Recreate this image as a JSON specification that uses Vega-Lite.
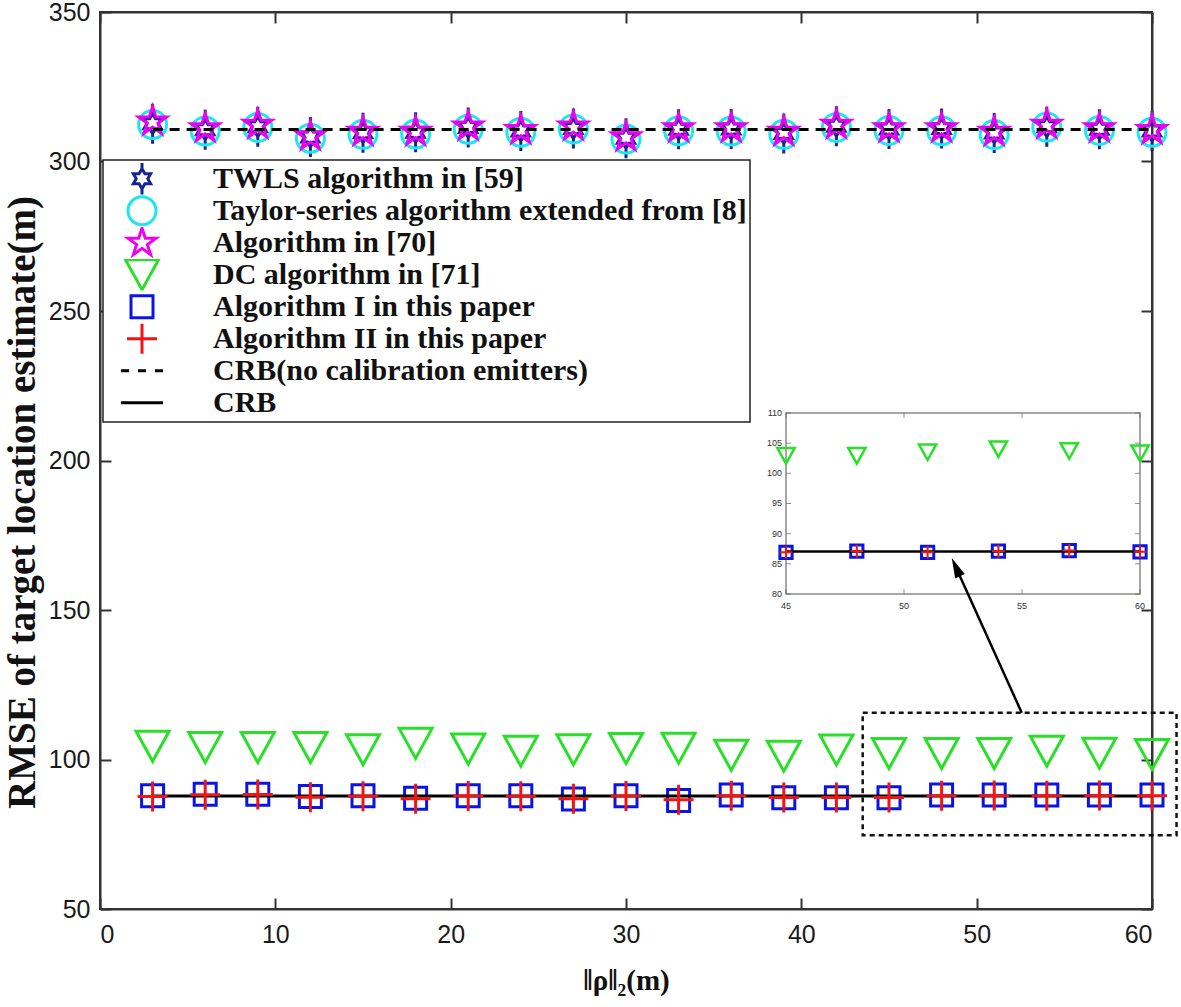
{
  "$schema": "https://vega.github.io/schema/vega-lite/v6.json",
  "width": 1052,
  "height": 897,
  "autosize": {"type": "none"},
  "padding": {"left": 100, "top": 12, "right": 29, "bottom": 98},
  "background": "white",
  "config": {
    "view": {"stroke": "#333333", "strokeWidth": 2},
    "axis": {"grid": false, "domainColor": "#333333", "domainWidth": 2, "tickColor": "#333333", "tickWidth": 2, "tickSize": -11, "labelFont": "Liberation Sans", "labelFontSize": 25, "labelColor": "#1a1a1a", "titleFont": "Liberation Serif", "titleFontWeight": "bold", "titleColor": "#111111"},
    "legend": {"orient": "none", "legendX": 3, "legendY": 148, "padding": 3, "strokeColor": "#222222", "strokeWidth": 1.5, "fillColor": "white", "labelFont": "Liberation Serif", "labelFontWeight": "bold", "labelFontSize": 30, "labelColor": "#111111", "labelLimit": 900, "labelOffset": 56, "symbolOffset": 21, "rowPadding": 0, "clipHeight": 31.5, "symbolSize": 4, "symbolStrokeWidth": 3}
  },
  "datasets": {
    "pts": [
      {"x": 3, "y": 312.6, "s": "TWLS algorithm in [59]"},
      {"x": 6, "y": 310.6, "s": "TWLS algorithm in [59]"},
      {"x": 9, "y": 311.6, "s": "TWLS algorithm in [59]"},
      {"x": 12, "y": 308.2, "s": "TWLS algorithm in [59]"},
      {"x": 15, "y": 309.6, "s": "TWLS algorithm in [59]"},
      {"x": 18, "y": 309.8, "s": "TWLS algorithm in [59]"},
      {"x": 21, "y": 311.4, "s": "TWLS algorithm in [59]"},
      {"x": 24, "y": 310.2, "s": "TWLS algorithm in [59]"},
      {"x": 27, "y": 311.0, "s": "TWLS algorithm in [59]"},
      {"x": 30, "y": 307.8, "s": "TWLS algorithm in [59]"},
      {"x": 33, "y": 310.8, "s": "TWLS algorithm in [59]"},
      {"x": 36, "y": 310.9, "s": "TWLS algorithm in [59]"},
      {"x": 39, "y": 309.4, "s": "TWLS algorithm in [59]"},
      {"x": 42, "y": 311.8, "s": "TWLS algorithm in [59]"},
      {"x": 45, "y": 310.9, "s": "TWLS algorithm in [59]"},
      {"x": 48, "y": 311.0, "s": "TWLS algorithm in [59]"},
      {"x": 51, "y": 309.5, "s": "TWLS algorithm in [59]"},
      {"x": 54, "y": 311.6, "s": "TWLS algorithm in [59]"},
      {"x": 57, "y": 310.8, "s": "TWLS algorithm in [59]"},
      {"x": 60, "y": 310.2, "s": "TWLS algorithm in [59]"},
      {"x": 3, "y": 312.4, "s": "Taylor-series algorithm extended from [8]"},
      {"x": 6, "y": 310.2, "s": "Taylor-series algorithm extended from [8]"},
      {"x": 9, "y": 311.4, "s": "Taylor-series algorithm extended from [8]"},
      {"x": 12, "y": 307.8, "s": "Taylor-series algorithm extended from [8]"},
      {"x": 15, "y": 309.1, "s": "Taylor-series algorithm extended from [8]"},
      {"x": 18, "y": 309.2, "s": "Taylor-series algorithm extended from [8]"},
      {"x": 21, "y": 310.8, "s": "Taylor-series algorithm extended from [8]"},
      {"x": 24, "y": 309.8, "s": "Taylor-series algorithm extended from [8]"},
      {"x": 27, "y": 310.9, "s": "Taylor-series algorithm extended from [8]"},
      {"x": 30, "y": 307.5, "s": "Taylor-series algorithm extended from [8]"},
      {"x": 33, "y": 310.3, "s": "Taylor-series algorithm extended from [8]"},
      {"x": 36, "y": 310.2, "s": "Taylor-series algorithm extended from [8]"},
      {"x": 39, "y": 309.1, "s": "Taylor-series algorithm extended from [8]"},
      {"x": 42, "y": 311.4, "s": "Taylor-series algorithm extended from [8]"},
      {"x": 45, "y": 310.4, "s": "Taylor-series algorithm extended from [8]"},
      {"x": 48, "y": 310.3, "s": "Taylor-series algorithm extended from [8]"},
      {"x": 51, "y": 309.0, "s": "Taylor-series algorithm extended from [8]"},
      {"x": 54, "y": 311.5, "s": "Taylor-series algorithm extended from [8]"},
      {"x": 57, "y": 310.4, "s": "Taylor-series algorithm extended from [8]"},
      {"x": 60, "y": 309.8, "s": "Taylor-series algorithm extended from [8]"},
      {"x": 3, "y": 313.4, "s": "Algorithm in [70]"},
      {"x": 6, "y": 311.1, "s": "Algorithm in [70]"},
      {"x": 9, "y": 312.3, "s": "Algorithm in [70]"},
      {"x": 12, "y": 308.4, "s": "Algorithm in [70]"},
      {"x": 15, "y": 309.9, "s": "Algorithm in [70]"},
      {"x": 18, "y": 309.9, "s": "Algorithm in [70]"},
      {"x": 21, "y": 311.7, "s": "Algorithm in [70]"},
      {"x": 24, "y": 310.5, "s": "Algorithm in [70]"},
      {"x": 27, "y": 311.7, "s": "Algorithm in [70]"},
      {"x": 30, "y": 308.1, "s": "Algorithm in [70]"},
      {"x": 33, "y": 311.1, "s": "Algorithm in [70]"},
      {"x": 36, "y": 311.1, "s": "Algorithm in [70]"},
      {"x": 39, "y": 309.9, "s": "Algorithm in [70]"},
      {"x": 42, "y": 312.3, "s": "Algorithm in [70]"},
      {"x": 45, "y": 311.1, "s": "Algorithm in [70]"},
      {"x": 48, "y": 311.1, "s": "Algorithm in [70]"},
      {"x": 51, "y": 309.9, "s": "Algorithm in [70]"},
      {"x": 54, "y": 312.3, "s": "Algorithm in [70]"},
      {"x": 57, "y": 311.1, "s": "Algorithm in [70]"},
      {"x": 60, "y": 310.5, "s": "Algorithm in [70]"},
      {"x": 3, "y": 104.4, "s": "DC algorithm in [71]"},
      {"x": 6, "y": 104.0, "s": "DC algorithm in [71]"},
      {"x": 9, "y": 104.0, "s": "DC algorithm in [71]"},
      {"x": 12, "y": 104.0, "s": "DC algorithm in [71]"},
      {"x": 15, "y": 103.3, "s": "DC algorithm in [71]"},
      {"x": 18, "y": 105.4, "s": "DC algorithm in [71]"},
      {"x": 21, "y": 103.5, "s": "DC algorithm in [71]"},
      {"x": 24, "y": 102.8, "s": "DC algorithm in [71]"},
      {"x": 27, "y": 103.3, "s": "DC algorithm in [71]"},
      {"x": 30, "y": 103.7, "s": "DC algorithm in [71]"},
      {"x": 33, "y": 103.8, "s": "DC algorithm in [71]"},
      {"x": 36, "y": 101.4, "s": "DC algorithm in [71]"},
      {"x": 39, "y": 101.1, "s": "DC algorithm in [71]"},
      {"x": 42, "y": 103.2, "s": "DC algorithm in [71]"},
      {"x": 45, "y": 102.0, "s": "DC algorithm in [71]"},
      {"x": 48, "y": 102.0, "s": "DC algorithm in [71]"},
      {"x": 51, "y": 102.0, "s": "DC algorithm in [71]"},
      {"x": 54, "y": 102.8, "s": "DC algorithm in [71]"},
      {"x": 57, "y": 102.1, "s": "DC algorithm in [71]"},
      {"x": 60, "y": 101.7, "s": "DC algorithm in [71]"},
      {"x": 3, "y": 87.9, "s": "Algorithm I in this paper"},
      {"x": 6, "y": 88.4, "s": "Algorithm I in this paper"},
      {"x": 9, "y": 88.4, "s": "Algorithm I in this paper"},
      {"x": 12, "y": 87.6, "s": "Algorithm I in this paper"},
      {"x": 15, "y": 87.9, "s": "Algorithm I in this paper"},
      {"x": 18, "y": 87.0, "s": "Algorithm I in this paper"},
      {"x": 21, "y": 87.9, "s": "Algorithm I in this paper"},
      {"x": 24, "y": 87.9, "s": "Algorithm I in this paper"},
      {"x": 27, "y": 86.8, "s": "Algorithm I in this paper"},
      {"x": 30, "y": 87.9, "s": "Algorithm I in this paper"},
      {"x": 33, "y": 86.3, "s": "Algorithm I in this paper"},
      {"x": 36, "y": 88.1, "s": "Algorithm I in this paper"},
      {"x": 39, "y": 87.2, "s": "Algorithm I in this paper"},
      {"x": 42, "y": 87.2, "s": "Algorithm I in this paper"},
      {"x": 45, "y": 87.2, "s": "Algorithm I in this paper"},
      {"x": 48, "y": 88.1, "s": "Algorithm I in this paper"},
      {"x": 51, "y": 88.1, "s": "Algorithm I in this paper"},
      {"x": 54, "y": 88.1, "s": "Algorithm I in this paper"},
      {"x": 57, "y": 88.1, "s": "Algorithm I in this paper"},
      {"x": 60, "y": 88.1, "s": "Algorithm I in this paper"},
      {"x": 3, "y": 87.6, "s": "Algorithm II in this paper"},
      {"x": 6, "y": 88.2, "s": "Algorithm II in this paper"},
      {"x": 9, "y": 88.3, "s": "Algorithm II in this paper"},
      {"x": 12, "y": 87.4, "s": "Algorithm II in this paper"},
      {"x": 15, "y": 87.7, "s": "Algorithm II in this paper"},
      {"x": 18, "y": 86.9, "s": "Algorithm II in this paper"},
      {"x": 21, "y": 87.8, "s": "Algorithm II in this paper"},
      {"x": 24, "y": 87.7, "s": "Algorithm II in this paper"},
      {"x": 27, "y": 86.9, "s": "Algorithm II in this paper"},
      {"x": 30, "y": 87.8, "s": "Algorithm II in this paper"},
      {"x": 33, "y": 86.5, "s": "Algorithm II in this paper"},
      {"x": 36, "y": 87.9, "s": "Algorithm II in this paper"},
      {"x": 39, "y": 87.3, "s": "Algorithm II in this paper"},
      {"x": 42, "y": 87.3, "s": "Algorithm II in this paper"},
      {"x": 45, "y": 87.3, "s": "Algorithm II in this paper"},
      {"x": 48, "y": 87.9, "s": "Algorithm II in this paper"},
      {"x": 51, "y": 88.0, "s": "Algorithm II in this paper"},
      {"x": 54, "y": 87.9, "s": "Algorithm II in this paper"},
      {"x": 57, "y": 88.0, "s": "Algorithm II in this paper"},
      {"x": 60, "y": 87.9, "s": "Algorithm II in this paper"}
    ],
    "crb": [
      {"x": 3, "y": 310.7, "k": "nc"}, {"x": 6, "y": 310.7, "k": "nc"}, {"x": 9, "y": 310.7, "k": "nc"}, {"x": 12, "y": 310.7, "k": "nc"}, {"x": 15, "y": 310.7, "k": "nc"},
      {"x": 18, "y": 310.7, "k": "nc"}, {"x": 21, "y": 310.7, "k": "nc"}, {"x": 24, "y": 310.7, "k": "nc"}, {"x": 27, "y": 310.7, "k": "nc"}, {"x": 30, "y": 310.7, "k": "nc"},
      {"x": 33, "y": 310.7, "k": "nc"}, {"x": 36, "y": 310.7, "k": "nc"}, {"x": 39, "y": 310.7, "k": "nc"}, {"x": 42, "y": 310.7, "k": "nc"}, {"x": 45, "y": 310.7, "k": "nc"},
      {"x": 48, "y": 310.7, "k": "nc"}, {"x": 51, "y": 310.7, "k": "nc"}, {"x": 54, "y": 310.7, "k": "nc"}, {"x": 57, "y": 310.7, "k": "nc"}, {"x": 60, "y": 310.7, "k": "nc"},
      {"x": 3, "y": 87.8, "k": "crb"}, {"x": 6, "y": 87.8, "k": "crb"}, {"x": 9, "y": 87.8, "k": "crb"}, {"x": 12, "y": 87.8, "k": "crb"}, {"x": 15, "y": 87.8, "k": "crb"},
      {"x": 18, "y": 87.8, "k": "crb"}, {"x": 21, "y": 87.8, "k": "crb"}, {"x": 24, "y": 87.8, "k": "crb"}, {"x": 27, "y": 87.8, "k": "crb"}, {"x": 30, "y": 87.8, "k": "crb"},
      {"x": 33, "y": 87.8, "k": "crb"}, {"x": 36, "y": 87.8, "k": "crb"}, {"x": 39, "y": 87.8, "k": "crb"}, {"x": 42, "y": 87.8, "k": "crb"}, {"x": 45, "y": 87.8, "k": "crb"},
      {"x": 48, "y": 87.8, "k": "crb"}, {"x": 51, "y": 87.8, "k": "crb"}, {"x": 54, "y": 87.8, "k": "crb"}, {"x": 57, "y": 87.8, "k": "crb"}, {"x": 60, "y": 87.8, "k": "crb"}
    ],
    "zoombox": [{"x": 43.5, "x2": 61.4, "y": 115.6, "y2": 74.7}],
    "arrow": [{"x": 54.987, "y": 60.32}, {"x": 52.241, "y": 84.07}],
    "arrowhead": [{"x": 52.241, "y": 84.07}],
    "ins": [
      {"x": 45, "y": 102.9, "s": "DC"}, {"x": 48, "y": 102.9, "s": "DC"}, {"x": 51, "y": 103.5, "s": "DC"}, {"x": 54, "y": 104.0, "s": "DC"}, {"x": 57, "y": 103.7, "s": "DC"}, {"x": 60, "y": 103.3, "s": "DC"},
      {"x": 45, "y": 86.9, "s": "A1"}, {"x": 48, "y": 87.1, "s": "A1"}, {"x": 51, "y": 86.9, "s": "A1"}, {"x": 54, "y": 87.1, "s": "A1"}, {"x": 57, "y": 87.2, "s": "A1"}, {"x": 60, "y": 87.0, "s": "A1"},
      {"x": 45, "y": 86.9, "s": "A2"}, {"x": 48, "y": 87.1, "s": "A2"}, {"x": 51, "y": 86.9, "s": "A2"}, {"x": 54, "y": 87.1, "s": "A2"}, {"x": 57, "y": 87.2, "s": "A2"}, {"x": 60, "y": 87.0, "s": "A2"}
    ],
    "icrb": [{"x": 45, "y": 87.05}, {"x": 48, "y": 87.05}, {"x": 51, "y": 87.05}, {"x": 54, "y": 87.05}, {"x": 57, "y": 87.05}, {"x": 60, "y": 87.05}],
    "ibox": [{"x": 45, "x2": 60, "y": 80, "y2": 110}],
    "ixt": [{"v": 45}, {"v": 50}, {"v": 55}, {"v": 60}],
    "iyt": [{"v": 80}, {"v": 85}, {"v": 90}, {"v": 95}, {"v": 100}, {"v": 105}, {"v": 110}]
  },
  "layer": [
    {
      "layer": [
        {
          "data": {"name": "pts"},
          "transform": [{"filter": "datum.s !== 'Algorithm II in this paper'"}],
          "mark": {"type": "point", "filled": false, "strokeWidth": 3, "opacity": 1, "size": 4},
          "encoding": {
            "x": {"field": "x", "type": "quantitative", "scale": {"domain": [0, 60], "nice": false, "zero": false},
                  "axis": {"values": [0, 10, 20, 30, 40, 50, 60], "labelPadding": 24, "title": "‖ρ‖₂(m)", "titleFontSize": 29, "titleY": 80, "titleBaseline": "alphabetic"}},
            "y": {"field": "y", "type": "quantitative", "scale": {"domain": [50, 350], "nice": false, "zero": false},
                  "axis": {"values": [50, 100, 150, 200, 250, 300, 350], "labelPadding": 21, "title": "RMSE of target location estimate(m)", "titleFontSize": 39, "titleX": -78, "titleY": 490, "titleBaseline": "middle"}},
            "color": {"field": "s", "type": "nominal", "title": null,
              "scale": {"domain": ["TWLS algorithm in [59]", "Taylor-series algorithm extended from [8]", "Algorithm in [70]", "DC algorithm in [71]", "Algorithm I in this paper", "Algorithm II in this paper", "CRB(no calibration emitters)", "CRB"],
                        "range": ["#15268f", "#1ee6f0", "#f000f0", "#28e028", "#0b14e6", "#f01414", "#000000", "#000000"]}},
            "shape": {"field": "s", "type": "nominal", "title": null,
              "scale": {"domain": ["TWLS algorithm in [59]", "Taylor-series algorithm extended from [8]", "Algorithm in [70]", "DC algorithm in [71]", "Algorithm I in this paper", "Algorithm II in this paper", "CRB(no calibration emitters)", "CRB"],
                        "range": ["M0,-10L2.887,-5L8.66,-5L5.77,0L8.66,5L2.887,5L0,10L-2.887,5L-8.66,5L-5.77,0L-8.66,-5L-2.887,-5ZM0,-10L0,-20M0,10L0,20", "M14,0A14,14,0,1,1,-14,0A14,14,0,1,1,14,0Z", "M0,-14.7L3.3,-4.54L13.98,-4.54L5.34,1.73L8.64,11.89L0,5.62L-8.64,11.89L-5.34,1.73L-13.98,-4.54L-3.3,-4.54Z", "M-16.5,-15L16.5,-15L0,15Z", "M-11,-11L11,-11L11,11L-11,11Z", "M-15,0L15,0M0,-15L0,15", "M-21,0L-13,0M-4,0L4,0M13,0L21,0", "M-21,0L21,0"]}}
          }
        },
        {
          "data": {"name": "crb"},
          "transform": [{"filter": "datum.k === 'nc'"}],
          "mark": {"type": "line", "color": "#000000", "strokeWidth": 3, "strokeDash": [10, 7]},
          "encoding": {"x": {"field": "x", "type": "quantitative", "axis": null}, "y": {"field": "y", "type": "quantitative", "axis": null}}
        },
        {
          "data": {"name": "crb"},
          "transform": [{"filter": "datum.k === 'crb'"}],
          "mark": {"type": "line", "color": "#000000", "strokeWidth": 3},
          "encoding": {"x": {"field": "x", "type": "quantitative", "axis": null}, "y": {"field": "y", "type": "quantitative", "axis": null}}
        },
        {
          "data": {"name": "pts"},
          "transform": [{"filter": "datum.s === 'Algorithm II in this paper'"}],
          "mark": {"type": "point", "filled": false, "strokeWidth": 3, "opacity": 1, "size": 4, "color": "#f01414", "shape": "M-15,0L15,0M0,-15L0,15"},
          "encoding": {
            "x": {"field": "x", "type": "quantitative", "axis": null},
            "y": {"field": "y", "type": "quantitative", "axis": null}
          }
        },
        {
          "data": {"name": "zoombox"},
          "mark": {"type": "rect", "fill": "white", "fillOpacity": 0, "stroke": "#111111", "strokeWidth": 2.5, "strokeDash": [5, 4]},
          "encoding": {"x": {"field": "x", "type": "quantitative", "axis": null}, "x2": {"field": "x2"}, "y": {"field": "y", "type": "quantitative", "axis": null}, "y2": {"field": "y2"}}
        },
        {
          "data": {"name": "zoombox"},
          "mark": {"type": "point", "opacity": 0},
          "encoding": {
            "x": {"field": "x", "type": "quantitative", "axis": {"orient": "top", "values": [0, 10, 20, 30, 40, 50, 60], "labels": false, "title": null}},
            "y": {"field": "y", "type": "quantitative", "axis": {"orient": "right", "values": [50, 100, 150, 200, 250, 300, 350], "labels": false, "title": null}}
          }
        }
      ],
      "resolve": {"axis": {"x": "independent", "y": "independent"}}
    },
    {
      "layer": [
        {
          "data": {"name": "ibox"},
          "mark": {"type": "rect", "fill": "white", "stroke": "#8a8a8a", "strokeWidth": 1.5},
          "encoding": {
            "x": {"field": "x", "type": "quantitative", "scale": {"domain": [15.932, 60.508], "nice": false, "zero": false}, "axis": null},
            "x2": {"field": "x2"},
            "y": {"field": "y", "type": "quantitative", "scale": {"domain": [27.79, 176.46], "nice": false, "zero": false}, "axis": null},
            "y2": {"field": "y2"}
          }
        },
        {
          "data": {"name": "ixt"},
          "mark": {"type": "tick", "orient": "vertical", "size": 5, "thickness": 1, "color": "#666666", "yOffset": -2.5},
          "encoding": {"x": {"field": "v", "type": "quantitative", "axis": null}, "y": {"datum": 80, "type": "quantitative", "axis": null}}
        },
        {
          "data": {"name": "ixt"},
          "mark": {"type": "tick", "orient": "vertical", "size": 5, "thickness": 1, "color": "#666666", "yOffset": 2.5},
          "encoding": {"x": {"field": "v", "type": "quantitative", "axis": null}, "y": {"datum": 110, "type": "quantitative", "axis": null}}
        },
        {
          "data": {"name": "iyt"},
          "mark": {"type": "tick", "orient": "horizontal", "size": 5, "thickness": 1, "color": "#666666", "xOffset": 2.5},
          "encoding": {"y": {"field": "v", "type": "quantitative", "axis": null}, "x": {"datum": 45, "type": "quantitative", "axis": null}}
        },
        {
          "data": {"name": "iyt"},
          "mark": {"type": "tick", "orient": "horizontal", "size": 5, "thickness": 1, "color": "#666666", "xOffset": -2.5},
          "encoding": {"y": {"field": "v", "type": "quantitative", "axis": null}, "x": {"datum": 60, "type": "quantitative", "axis": null}}
        },
        {
          "data": {"name": "ixt"},
          "mark": {"type": "text", "font": "Liberation Sans", "fontSize": 9, "color": "#333333", "dy": 12, "align": "center", "baseline": "middle"},
          "encoding": {"x": {"field": "v", "type": "quantitative", "axis": null}, "y": {"datum": 80, "type": "quantitative", "axis": null}, "text": {"field": "v", "type": "quantitative"}}
        },
        {
          "data": {"name": "iyt"},
          "mark": {"type": "text", "font": "Liberation Sans", "fontSize": 9, "color": "#333333", "dx": -4, "align": "right", "baseline": "middle"},
          "encoding": {"y": {"field": "v", "type": "quantitative", "axis": null}, "x": {"datum": 45, "type": "quantitative", "axis": null}, "text": {"field": "v", "type": "quantitative"}}
        },
        {
          "data": {"name": "ins"},
          "transform": [{"filter": "datum.s === 'DC'"}],
          "mark": {"type": "point", "filled": false, "strokeWidth": 2.5, "color": "#28e028", "opacity": 1, "shape": "M-1,-0.9L1,-0.9L0,0.9Z", "size": 300},
          "encoding": {"x": {"field": "x", "type": "quantitative", "axis": null}, "y": {"field": "y", "type": "quantitative", "axis": null}}
        },
        {
          "data": {"name": "ins"},
          "transform": [{"filter": "datum.s === 'A1'"}],
          "mark": {"type": "point", "filled": false, "strokeWidth": 3, "color": "#0b14e6", "opacity": 1, "shape": "square", "size": 150},
          "encoding": {"x": {"field": "x", "type": "quantitative", "axis": null}, "y": {"field": "y", "type": "quantitative", "axis": null}}
        },
        {
          "data": {"name": "icrb"},
          "mark": {"type": "line", "color": "#000000", "strokeWidth": 2.5},
          "encoding": {"x": {"field": "x", "type": "quantitative", "axis": null}, "y": {"field": "y", "type": "quantitative", "axis": null}}
        },
        {
          "data": {"name": "ins"},
          "transform": [{"filter": "datum.s === 'A2'"}],
          "mark": {"type": "point", "filled": false, "strokeWidth": 2, "color": "#f01414", "opacity": 1, "shape": "M-1,0L1,0M0,-1L0,1", "size": 169},
          "encoding": {"x": {"field": "x", "type": "quantitative", "axis": null}, "y": {"field": "y", "type": "quantitative", "axis": null}}
        },
        {
          "data": {"name": "arrow"},
          "mark": {"type": "line", "color": "#000000", "strokeWidth": 2.5},
          "encoding": {"x": {"field": "x", "type": "quantitative", "axis": null}, "y": {"field": "y", "type": "quantitative", "axis": null}}
        },
        {
          "data": {"name": "arrowhead"},
          "mark": {"type": "point", "filled": true, "color": "#000000", "opacity": 1, "shape": "M0,-1L0.42,0.6L-0.42,0.6Z", "size": 625, "angle": 335.7},
          "encoding": {"x": {"field": "x", "type": "quantitative", "axis": null}, "y": {"field": "y", "type": "quantitative", "axis": null}}
        }
      ]
    }
  ],
  "resolve": {"scale": {"x": "independent", "y": "independent"}, "axis": {"x": "independent", "y": "independent"}}
}
